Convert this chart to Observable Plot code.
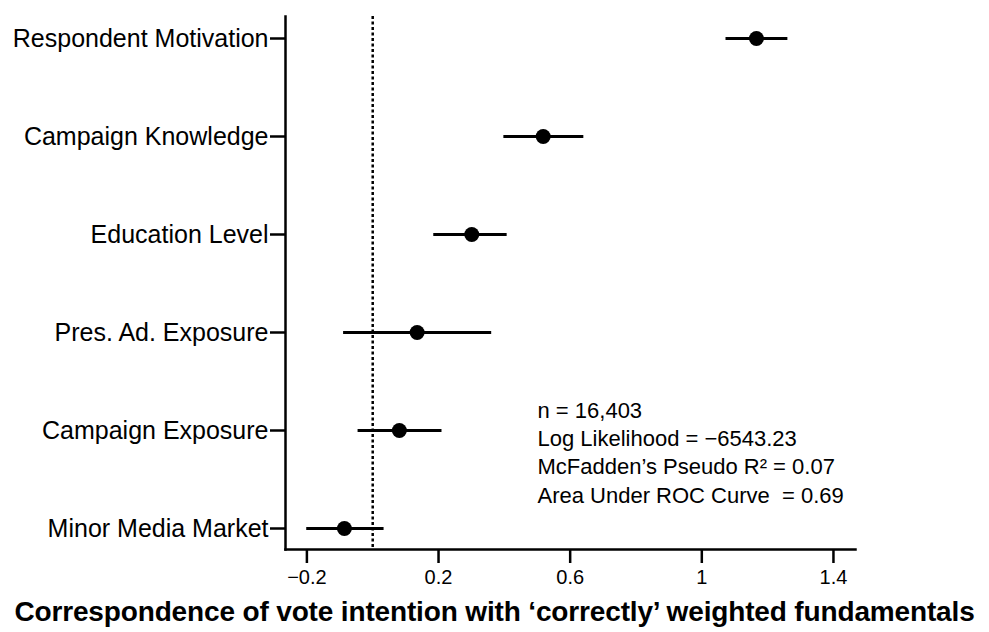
<!DOCTYPE html>
<html><head><meta charset="utf-8">
<script src="https://cdn.jsdelivr.net/npm/d3@7"></script>
<script src="https://cdn.jsdelivr.net/npm/@observablehq/plot@0.6"></script>
<style>
body{margin:0;background:#fff;font-family:"Liberation Sans",Arial,sans-serif;}
#chart{width:989px;}
#title{font-weight:bold;font-size:28px;text-align:center;width:989px;margin-top:0px;color:#000;white-space:nowrap;letter-spacing:-0.15px;}
g[aria-label="y-axis tick label"]{font-size:25px;}
g[aria-label="x-axis tick label"]{font-size:20px;}
g[aria-label="x-axis tick"], g[aria-label="y-axis tick"]{stroke-width:2.5px;}
</style></head><body>
<div id="chart"></div><div id="title"></div>
<script>
const categories = ["Respondent Motivation","Campaign Knowledge","Education Level","Pres. Ad. Exposure","Campaign Exposure","Minor Media Market"];
const estimates = [1.166, 0.518, 0.301, 0.135, 0.081, -0.086];
const lower = [1.072, 0.397, 0.184, -0.090, -0.046, -0.202];
const upper = [1.260, 0.640, 0.407, 0.360, 0.209, 0.033];
const xTicks = [-0.2, 0.2, 0.6, 1, 1.4];
const statsLines = ["n = 16,403","Log Likelihood = \u22126543.23","McFadden\u2019s Pseudo R\u00B2 = 0.07","Area Under ROC Curve  = 0.69"];
const xLabel = "Correspondence of vote intention with \u2018correctly\u2019 weighted fundamentals";

const data = categories.map((c, i) => ({c, est: estimates[i], lo: lower[i], hi: upper[i]}));

const chart = Plot.plot({
  width: 989, height: 596,
  marginLeft: 285, marginRight: 134, marginTop: 16, marginBottom: 47,
  style: {fontFamily: "'Liberation Sans', Arial, sans-serif", fontSize: "19px", color: "#000", background: "#fff"},
  x: {domain: [-0.265, 1.467], ticks: xTicks, tickFormat: d => String(d).replace("-", "\u2212"), tickSize: 14, tickPadding: 6, label: null},
  y: {domain: categories, type: "point", padding: 0.2, tickSize: 15, tickPadding: 2, label: null},
  marks: [
    Plot.frame({anchor: "left", stroke: "#000", strokeWidth: 2.5}),
    Plot.frame({anchor: "bottom", stroke: "#000", strokeWidth: 2.5}),
    Plot.ruleX([0], {stroke: "#000", strokeWidth: 2.5, strokeDasharray: "3,2.5"}),
    Plot.link(data, {x1: "lo", x2: "hi", y1: "c", y2: "c", stroke: "#000", strokeWidth: 3}),
    Plot.dot(data, {x: "est", y: "c", r: 7.5, fill: "#000", stroke: "none"}),
    Plot.text([statsLines.join("\n")], {frameAnchor: "bottom-left", dx: 252, dy: -47, textAnchor: "start", lineAnchor: "bottom", lineHeight: 1.28, fontSize: 22, fill: "#000"})
  ]
});
document.getElementById("chart").append(chart);
document.getElementById("title").textContent = xLabel;
</script>
</body></html>
